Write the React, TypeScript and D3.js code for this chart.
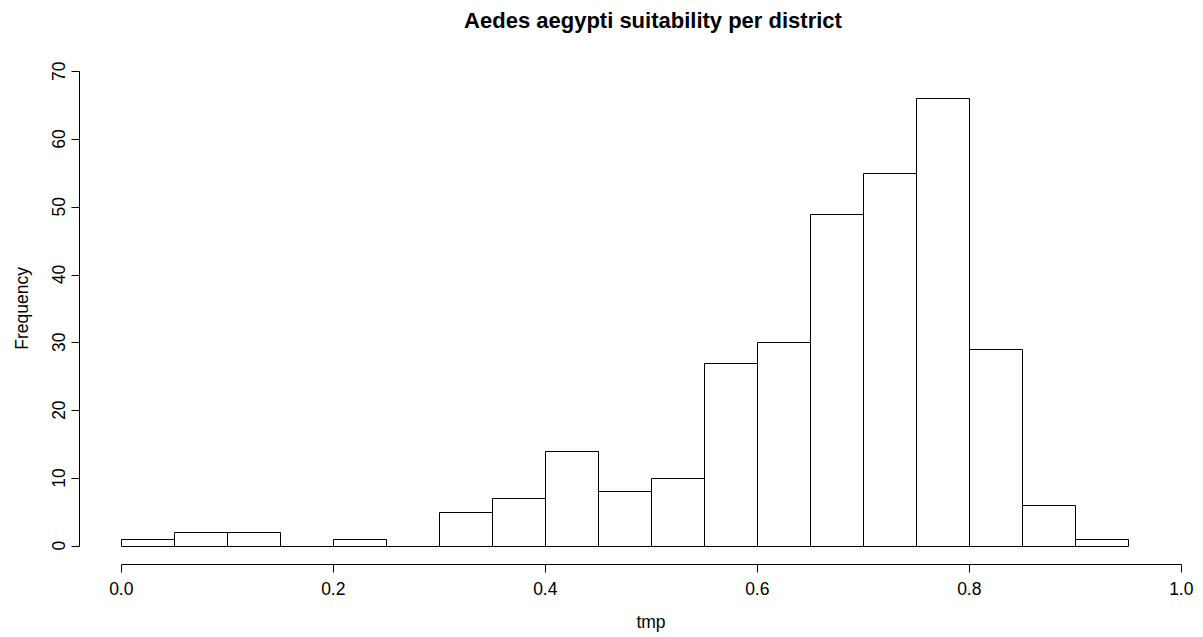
import React from "react";
import * as d3 from "d3";

// Histogram of district suitability scores, bins of width 0.05
const binStarts = [0.0, 0.05, 0.1, 0.15, 0.2, 0.25, 0.3, 0.35, 0.4, 0.45, 0.5, 0.55, 0.6, 0.65, 0.7, 0.75, 0.8, 0.85, 0.9];
const counts = [1, 2, 2, 0, 1, 0, 5, 7, 14, 8, 10, 27, 30, 49, 55, 66, 29, 6, 1];
const binWidth = 0.05;
const xTicks = [0, 0.2, 0.4, 0.6, 0.8, 1.0];
const yTicks = [0, 10, 20, 30, 40, 50, 60, 70];

const W = 1203;
const H = 637;
const FONT = "'Liberation Sans', Arial, Helvetica, sans-serif";
const LABEL_SIZE = 17.5;

export default function App() {
  const x = d3.scaleLinear().domain([0, 1]).range([121.3, 1181.3]);
  const y = d3.scaleLinear().domain([0, 70]).range([545.7, 71.2]);
  const snap = (v: number) => Math.round(v) + 0.5;

  const barPath = (start: number, count: number) => {
    const p = d3.path();
    const x0 = snap(x(start));
    const x1 = snap(x(start + binWidth));
    const y0 = snap(y(0));
    const y1 = snap(y(count));
    p.moveTo(x0, y0);
    p.lineTo(x0, y1);
    p.lineTo(x1, y1);
    p.lineTo(x1, y0);
    p.closePath();
    return p.toString();
  };

  const xAxisY = snap(564.3);
  const yAxisX = snap(79);

  return (
    <svg width={W} height={H} style={{ position: "absolute", left: 0, top: 0, background: "#fff" }}>
      <rect x={0} y={0} width={W} height={H} fill="#fff" />
      <text x={653} y={28} textAnchor="middle" fontFamily={FONT} fontWeight="bold" fontSize={22} fill="#000">
        Aedes aegypti suitability per district
      </text>

      {binStarts.map((s, i) => (
        <path key={i} d={barPath(s, counts[i])} fill="none" stroke="#000" strokeWidth={1} />
      ))}

      {/* x axis */}
      <line x1={snap(x(0))} x2={snap(x(1))} y1={xAxisY} y2={xAxisY} stroke="#000" />
      {xTicks.map((t) => (
        <g key={t}>
          <line x1={snap(x(t))} x2={snap(x(t))} y1={xAxisY} y2={xAxisY + 8} stroke="#000" />
          <text x={x(t)} y={595} textAnchor="middle" fontFamily={FONT} fontSize={LABEL_SIZE} fill="#000">
            {d3.format(".1f")(t)}
          </text>
        </g>
      ))}
      <text x={651} y={628} textAnchor="middle" fontFamily={FONT} fontSize={LABEL_SIZE} fill="#000">
        tmp
      </text>

      {/* y axis */}
      <line x1={yAxisX} x2={yAxisX} y1={snap(y(0))} y2={snap(y(70))} stroke="#000" />
      {yTicks.map((t) => (
        <g key={t}>
          <line x1={yAxisX - 8} x2={yAxisX} y1={snap(y(t))} y2={snap(y(t))} stroke="#000" />
          <text
            transform={`translate(65,${y(t)}) rotate(-90)`}
            textAnchor="middle"
            fontFamily={FONT}
            fontSize={LABEL_SIZE}
            fill="#000"
          >
            {t}
          </text>
        </g>
      ))}
      <text
        transform={`translate(28,${(y(0) + y(70)) / 2}) rotate(-90)`}
        textAnchor="middle"
        fontFamily={FONT}
        fontSize={LABEL_SIZE}
        fill="#000"
      >
        Frequency
      </text>
    </svg>
  );
}
